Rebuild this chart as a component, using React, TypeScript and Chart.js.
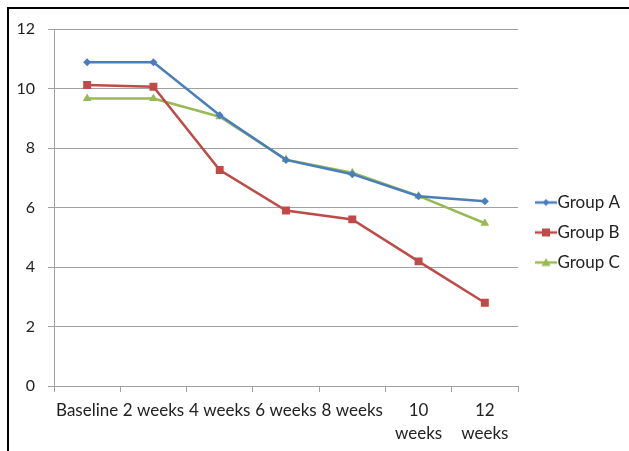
import React, { useEffect, useRef } from "react";
import { Chart, registerables } from "chart.js";

Chart.register(...registerables);

const categories: (string | string[])[] = [
  "Baseline",
  "2 weeks",
  "4 weeks",
  "6 weeks",
  "8 weeks",
  ["10", "weeks"],
  ["12", "weeks"],
];
const groupA = [10.88, 10.88, 9.1, 7.6, 7.12, 6.38, 6.21];
const groupB = [10.12, 10.06, 7.26, 5.9, 5.6, 4.19, 2.8];
const groupC = [9.66, 9.66, 9.05, 7.61, 7.17, 6.39, 5.47];
const seriesNames = ["Group A", "Group B", "Group C"];
const colors = ["#4A7EBB", "#BE4B48", "#98B954"];
const markers = ["rectRot", "rect", "triangle"];

const FONT = "Lato, 'Noto Sans', sans-serif";

function legendImage(color: string, marker: string): HTMLCanvasElement {
  const c = document.createElement("canvas");
  c.width = 34;
  c.height = 12;
  const ctx = c.getContext("2d")!;
  ctx.strokeStyle = color;
  ctx.fillStyle = color;
  ctx.lineWidth = 2.5;
  ctx.beginPath();
  ctx.moveTo(12, 6);
  ctx.lineTo(34, 6);
  ctx.stroke();
  const cx = 23;
  const cy = 6;
  ctx.beginPath();
  if (marker === "rectRot") {
    ctx.moveTo(cx, cy - 3.5);
    ctx.lineTo(cx + 3.5, cy);
    ctx.lineTo(cx, cy + 3.5);
    ctx.lineTo(cx - 3.5, cy);
    ctx.closePath();
  } else if (marker === "rect") {
    ctx.rect(cx - 4, cy - 4, 8, 8);
  } else {
    ctx.moveTo(cx, cy - 4.5);
    ctx.lineTo(cx + 4.5, cy + 3.5);
    ctx.lineTo(cx - 4.5, cy + 3.5);
    ctx.closePath();
  }
  ctx.fill();
  return c;
}

export default function App() {
  const ref = useRef<HTMLCanvasElement | null>(null);

  useEffect(() => {
    if (!ref.current) return;
    const images = colors.map((c, i) => legendImage(c, markers[i]));
    const seriesData = [groupA, groupB, groupC];
    const chart = new Chart(ref.current, {
      type: "line",
      data: {
        labels: categories,
        datasets: seriesNames.map((name, i) => ({
          label: name,
          data: seriesData[i],
          borderColor: colors[i],
          backgroundColor: colors[i],
          borderWidth: 2.5,
          pointStyle: markers[i] as any,
          pointRadius: i === 0 ? 4 : i === 1 ? 5.6 : 5,
          pointBorderWidth: 0,
          pointBackgroundColor: colors[i],
          tension: 0,
          fill: false,
        })),
      },
      options: {
        responsive: false,
        animation: false,
        layout: { padding: { top: 29, right: 0, bottom: 0, left: 0 } },
        plugins: {
          tooltip: { enabled: false },
          legend: {
            position: "right",
            fullSize: false,
            maxWidth: 111,
            title: {
              display: true,
              text: "",
              font: { size: 10, lineHeight: 1.2 },
              padding: { top: 19, bottom: 19 },
            },
            labels: {
              usePointStyle: true,
              pointStyleWidth: 18,
              padding: 13,
              color: "#222",
              font: { family: FONT, size: 17 },
              generateLabels: (ch: any) => {
                const base = Chart.defaults.plugins.legend.labels.generateLabels(ch);
                return base.map((l: any, i: number) => ({
                  ...l,
                  pointStyle: images[i],
                }));
              },
            },
          },
        },
        scales: {
          x: {
            offset: true,
            grid: {
              offset: true,
              drawOnChartArea: false,
              drawTicks: true,
              tickLength: 6,
              color: "#A0A0A0",
            },
            border: { color: "#A0A0A0" },
            ticks: {
              autoSkip: false,
              maxRotation: 0,
              minRotation: 0,
              padding: 7,
              color: "#222",
              font: { family: FONT, size: 17, lineHeight: 1.35 },
            },
            afterFit: (s: any) => {
              s.height = 65;
            },
          },
          y: {
            min: 0,
            max: 12,
            ticks: {
              stepSize: 2,
              padding: 13,
              color: "#222",
              font: { family: FONT, size: 16 },
            },
            grid: {
              color: "#A0A0A0",
              tickLength: 6,
            },
            border: { color: "#A0A0A0" },
            afterFit: (s: any) => {
              s.width = 54;
            },
          },
        },
      },
    });
    return () => chart.destroy();
  }, []);

  return (
    <div
      style={{
        position: "fixed",
        left: 0,
        top: 0,
        width: 629,
        height: 451,
        background: "#fff",
        overflow: "hidden",
      }}
    >
      <canvas
        ref={ref}
        width={629}
        height={451}
        style={{ display: "block", position: "absolute", left: 0, top: 0 }}
      />
      <div
        style={{
          position: "absolute",
          left: 7,
          top: 7,
          width: 640,
          height: 460,
          borderTop: "2px solid #000",
          borderLeft: "2px solid #000",
          pointerEvents: "none",
        }}
      />
    </div>
  );
}
